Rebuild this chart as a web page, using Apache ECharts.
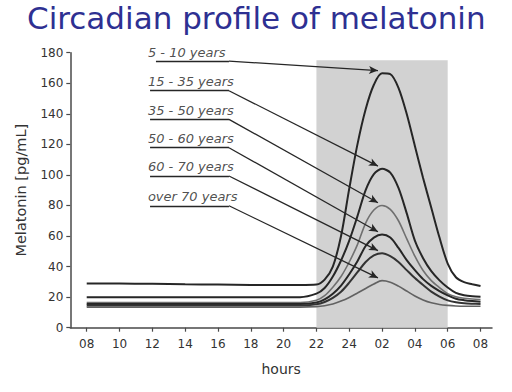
<!DOCTYPE html>
<html><head><meta charset="utf-8">
<script src="https://cdn.jsdelivr.net/npm/echarts@6/dist/echarts.min.js"></script>
<style>html,body{margin:0;padding:0;background:#fff}#c{width:512px;height:392px}</style>
</head><body><div id="c"></div>
<script>
// ---- data ----
const hours = [8,10,12,14,16,18,20,21,22,22.5,23,23.5,24,24.5,25,25.5,26,26.5,27,27.5,28,28.5,29,29.5,30,30.5,31,31.5,32];
const age5_10   = [29,29,28.7,28.4,28.2,28,28,28,28.3,31.5,40,60,91,120,143,159,166.5,166,157,140,119,98,78.5,59,42,33,29.8,28.5,27.3];
const age15_35  = [20,20,20,20,20,20,20,20,22.3,26,33.5,44,57,73,90,100.5,104,101.5,91.5,75,57,45.5,37,31,26.3,22.8,21.3,20.6,20.3];
const age35_50  = [16.5,16.5,16.5,16.5,16.5,16.5,16.5,16.5,18,21,26.5,33.5,43,54.4,68.5,77,80,77.5,70,58.3,46.8,37.4,30.8,26.3,22.3,20.3,19.3,18.8,18.5];
const age50_60  = [15.5,15.5,15.5,15.5,15.5,15.5,15.5,15.5,16.5,18.5,22.2,27.6,35,43.5,53.5,59,61,59,52.2,44.2,37.7,31.8,27.4,24,21.2,19,18,17.4,17];
const age60_70  = [14.5,14.5,14.5,14.5,14.5,14.5,14.5,14.5,15.3,16.8,19.5,23.5,29.5,36.3,43,47.3,48.7,46.8,43,37.7,32.5,27.9,23.6,20.4,17.9,16.6,16,15.7,15.5];
const ageOver70 = [13.5,13.5,13.5,13.5,13.5,13.5,13.5,13.5,13.8,14.4,15.5,17.4,19.8,22.7,25.7,28.6,30.8,29.8,27.2,24,20.8,18.2,16.3,15.2,14.6,14.2,14,14,14];
const groupNames = ['5 - 10 years','15 - 35 years','35 - 50 years','50 - 60 years','60 - 70 years','over 70 years'];
const tickHours  = [8,10,12,14,16,18,20,22,24,26,28,30,32];
const tickLabels = ['08','10','12','14','16','18','20','22','24','02','04','06','08'];
const night = { from: 22, to: 30, top: 175 };

// ---- layout / style (not data) ----
const annot = {
  startH: [12.22, 11.86, 11.86, 11.86, 11.86, 11.86],
  bendH: 16.67, tipH: 25.75, tipLift: 1.8, textH: 11.73,
  underlineV: [174.5, 155.1, 136.4, 117.8, 99.3, 79.8]
};
const styles = [
  {color:'#262626', width:2},
  {color:'#262626', width:2},
  {color:'#707070', width:1.6},
  {color:'#262626', width:2},
  {color:'#333333', width:2},
  {color:'#626262', width:1.6}
];
const FONT = 'DejaVu Sans';
const allSeries = [age5_10, age15_35, age35_50, age50_60, age60_70, ageOver70];

const series = allSeries.map((vals, i) => {
  const peak = Math.max(...vals);
  const u = annot.underlineV[i];
  const s = {
    type: 'line', name: groupNames[i], z: 3,
    data: hours.map((h, j) => [h, vals[j]]),
    smooth: 0.3, symbol: 'none', silent: true,
    lineStyle: { color: styles[i].color, width: styles[i].width },
    markLine: {
      silent: true, animation: false, symbol: 'none',
      lineStyle: { color: '#262626', width: 1.3, type: 'solid' },
      label: { show: false },
      data: [
        [{ coord: [annot.startH[i], u] }, { coord: [annot.bendH, u] }],
        [{ coord: [annot.bendH, u] }, { coord: [annot.tipH, peak + annot.tipLift], symbol: 'arrow', symbolSize: [6, 9] }]
      ]
    }
  };
  if (i === 0) {
    s.markArea = {
      silent: true, itemStyle: { color: '#d2d2d2' },
      data: [[{ coord: [night.from, 0] }, { coord: [night.to, night.top] }]]
    };
  }
  return s;
});
series.push({
  type: 'scatter', symbolSize: 0, silent: true, z: 5,
  data: groupNames.map((n, i) => [annot.textH, annot.underlineV[i]]),
  label: {
    show: true, position: 'right', distance: 0, offset: [0, -9],
    formatter: p => groupNames[p.dataIndex],
    fontFamily: FONT, fontStyle: 'italic', fontSize: 13, color: '#222'
  }
});

const chart = echarts.init(document.getElementById('c'), null, { renderer: 'svg' });
chart.setOption({
  animation: false,
  backgroundColor: '#fff',
  title: {
    text: 'Circadian profile of melatonin', left: 27, top: 2, padding: 0,
    textStyle: { fontFamily: FONT, fontSize: 31, fontWeight: 'normal', color: '#2e3092' }
  },
  grid: { left: 70.3, right: 20, top: 52.7, bottom: 64.3, containLabel: false, outerBoundsMode: 'none' },
  xAxis: {
    type: 'value', min: 7, max: 32.7,
    name: 'hours', nameLocation: 'middle', nameGap: 34,
    nameTextStyle: { fontFamily: FONT, fontSize: 14, color: '#333' },
    axisLine: { show: true, onZero: false, lineStyle: { color: '#4a4a4a', width: 1.5 } },
    axisTick: { show: true, length: 4, customValues: tickHours, lineStyle: { color: '#4a4a4a', width: 1.2 } },
    axisLabel: {
      customValues: tickHours, margin: 10,
      formatter: v => tickLabels[tickHours.indexOf(v)],
      fontFamily: FONT, fontSize: 12, color: '#333'
    },
    splitLine: { show: false }
  },
  yAxis: {
    type: 'value', min: 0, max: 180, interval: 20,
    name: 'Melatonin [pg/mL]', nameLocation: 'middle', nameGap: 42, nameRotate: 90,
    nameTextStyle: { fontFamily: FONT, fontSize: 14.5, color: '#333' },
    axisLine: { show: true, lineStyle: { color: '#4a4a4a', width: 1.5 } },
    axisTick: { show: true, length: 4, lineStyle: { color: '#4a4a4a', width: 1.2 } },
    axisLabel: { margin: 7, fontFamily: FONT, fontSize: 12, color: '#333' },
    splitLine: { show: false }
  },
  series: series
});
</script>
</body></html>
